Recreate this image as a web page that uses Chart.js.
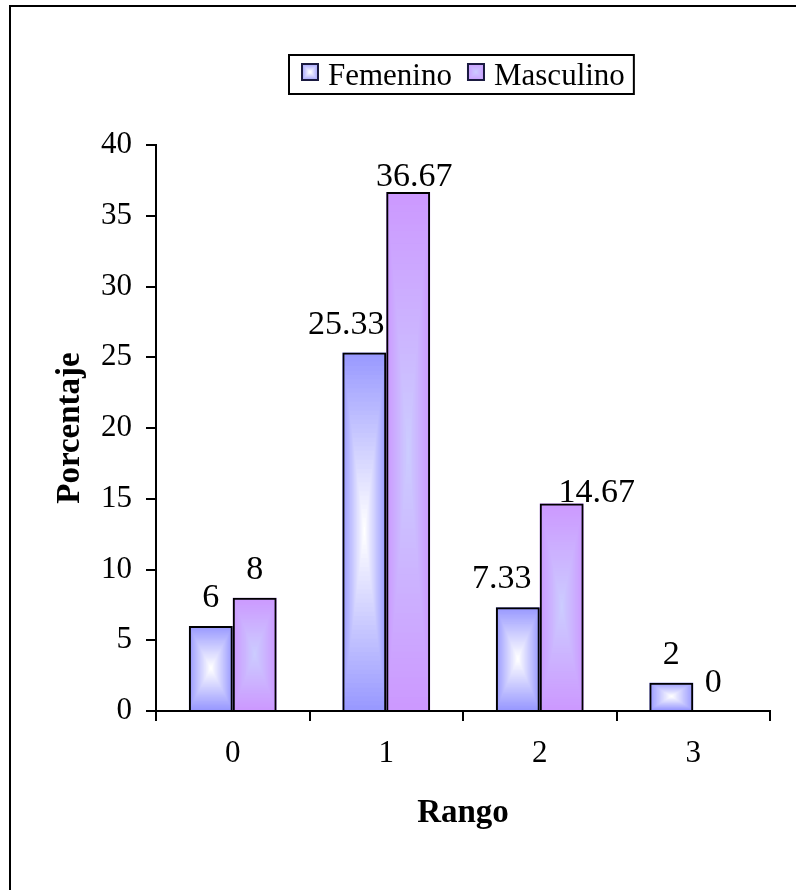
<!DOCTYPE html>
<html lang="es">
<head>
    <meta charset="UTF-8">
    <title>Porcentaje por rango</title>
    <script src="https://cdn.jsdelivr.net/npm/chart.js"></script>
    <style>
        html, body {
            margin: 0;
            padding: 0;
            background: #fff;
            overflow: hidden;
        }
        .frame {
            position: absolute;
            left: 9px;
            top: 5px;
            width: 900px;
            height: 1000px;
            border: 2px solid #000;
            box-sizing: border-box;
        }
        .wrap {
            position: absolute;
            left: 0;
            top: 0;
            width: 796px;
            height: 890px;
        }
    </style>
</head>
<body>
    <div class="frame"></div>
    <div class="wrap">
        <canvas id="rangoChart" width="796" height="890"></canvas>
    </div>

    <script>
        // datos
        const categories = ['0', '1', '2', '3'];
        const seriesNames = ['Femenino', 'Masculino'];
        const femenino = [6, 25.33, 7.33, 2];
        const masculino = [8, 36.67, 14.67, 0];
        const yMin = 0;
        const yMax = 40;
        const yStep = 5;

        // colores del degradado (borde -> centro)
        const fills = [
            { edge: [153, 153, 255], center: [255, 255, 255] },
            { edge: [204, 153, 255], center: [204, 204, 255] }
        ];

        // desplazamiento de cada etiqueta respecto a su barra [dx, dy]
        const labelNudge = [
            [[0, 0], [-18, 0], [-16, 0], [0, 0]],
            [[0, 0], [6, 13], [35, 18], [-2, 0]]
        ];
        const labelGap = 19;

        const serif = "'Liberation Serif', 'Times New Roman', serif";
        const font = { family: serif, size: 31 };
        const fontBold = { family: serif, size: 33, weight: 'bold' };

        // rellena un rectangulo con degradado desde el centro
        function boxGradient(ctx, left, top, w, h, fill) {
            const steps = 40;
            const cx = left + w / 2;
            const cy = top + h / 2;
            for (let i = 0; i < steps; i++) {
                const t = i / (steps - 1);
                const c = fill.edge.map((e, k) => Math.round(e + (fill.center[k] - e) * t));
                const k = 1 - i / steps;
                ctx.fillStyle = `rgb(${c[0]},${c[1]},${c[2]})`;
                ctx.fillRect(cx - w / 2 * k, cy - h / 2 * k, w * k, h * k);
            }
        }

        const gradientBars = {
            id: 'gradientBars',
            beforeDatasetsDraw(chart) {
                const ctx = chart.ctx;
                ctx.save();
                chart.data.datasets.forEach((ds, di) => {
                    chart.getDatasetMeta(di).data.forEach(el => {
                        const p = el.getProps(['x', 'y', 'base', 'width'], true);
                        const top = Math.min(p.y, p.base);
                        const h = Math.abs(p.base - p.y);
                        if (h > 0) boxGradient(ctx, p.x - p.width / 2, top, p.width, h, fills[di]);
                    });
                });
                ctx.restore();
            }
        };

        const valueLabels = {
            id: 'valueLabels',
            afterDatasetsDraw(chart) {
                const ctx = chart.ctx;
                ctx.save();
                ctx.font = `34px ${serif}`;
                ctx.fillStyle = '#000';
                ctx.textAlign = 'center';
                ctx.textBaseline = 'alphabetic';
                chart.data.datasets.forEach((ds, di) => {
                    chart.getDatasetMeta(di).data.forEach((el, i) => {
                        const p = el.getProps(['x', 'y'], true);
                        const n = labelNudge[di][i];
                        ctx.fillText(String(ds.data[i]), p.x + n[0], p.y - labelGap + n[1]);
                    });
                });
                ctx.restore();
            }
        };

        // leyenda con recuadro
        const boxedLegend = {
            id: 'boxedLegend',
            afterDraw(chart) {
                const ctx = chart.ctx;
                ctx.save();
                ctx.font = `31px ${serif}`;
                const box = 18, gap = 9, between = 15, padL = 12, padR = 9;
                const widths = seriesNames.map(s => ctx.measureText(s).width);
                const total = padL + widths.reduce((a, w) => a + box + gap + w, 0) + between + padR;
                const centerX = (chart.chartArea.left + chart.chartArea.right) / 2 - 2;
                const left = Math.round(centerX - total / 2);
                const top = 55, height = 39;
                ctx.strokeStyle = '#000';
                ctx.lineWidth = 2;
                ctx.strokeRect(left, top, total, height);
                let x = left + padL;
                seriesNames.forEach((s, i) => {
                    boxGradient(ctx, x, 63, box, box, fills[i]);
                    ctx.strokeStyle = '#1a1a40';
                    ctx.lineWidth = 2;
                    ctx.strokeRect(x + 1, 64, box - 2, box - 2);
                    ctx.fillStyle = '#000';
                    ctx.textBaseline = 'alphabetic';
                    ctx.fillText(s, x + box + gap, 85);
                    x += box + gap + widths[i] + between;
                });
                ctx.restore();
            }
        };

        const ctx = document.getElementById('rangoChart').getContext('2d');
        new Chart(ctx, {
            type: 'bar',
            data: {
                labels: categories,
                datasets: [
                    { label: seriesNames[0], data: femenino },
                    { label: seriesNames[1], data: masculino }
                ].map(d => Object.assign(d, {
                    backgroundColor: 'rgba(0,0,0,0)',
                    borderColor: '#000',
                    borderWidth: 2,
                    categoryPercentage: 2 / 3.5,
                    barPercentage: 1
                }))
            },
            options: {
                responsive: false,
                animation: false,
                layout: { padding: { left: 20, right: 26, top: 145, bottom: 49 } },
                plugins: {
                    legend: { display: false },
                    tooltip: { enabled: false }
                },
                scales: {
                    x: {
                        grid: { offset: true, drawOnChartArea: false, tickLength: 10, color: '#000', lineWidth: 2 },
                        border: { color: '#000', width: 2 },
                        ticks: { font: font, color: '#000', padding: 14, maxRotation: 0 },
                        title: { display: true, text: 'Rango', font: fontBold, color: '#000', padding: { top: 0, bottom: 8 } },
                        afterFit(s) { s.height = 130; }
                    },
                    y: {
                        min: yMin,
                        max: yMax,
                        grid: { drawOnChartArea: false, tickLength: 10, color: '#000', lineWidth: 2 },
                        border: { color: '#000', width: 2 },
                        ticks: { stepSize: yStep, font: font, color: '#000', padding: 14 },
                        title: { display: true, text: 'Porcentaje', font: fontBold, color: '#000', padding: { top: 31, bottom: 0 } },
                        afterFit(s) { s.width = 136; }
                    }
                }
            },
            plugins: [gradientBars, valueLabels, boxedLegend]
        });
    </script>
</body>
</html>
